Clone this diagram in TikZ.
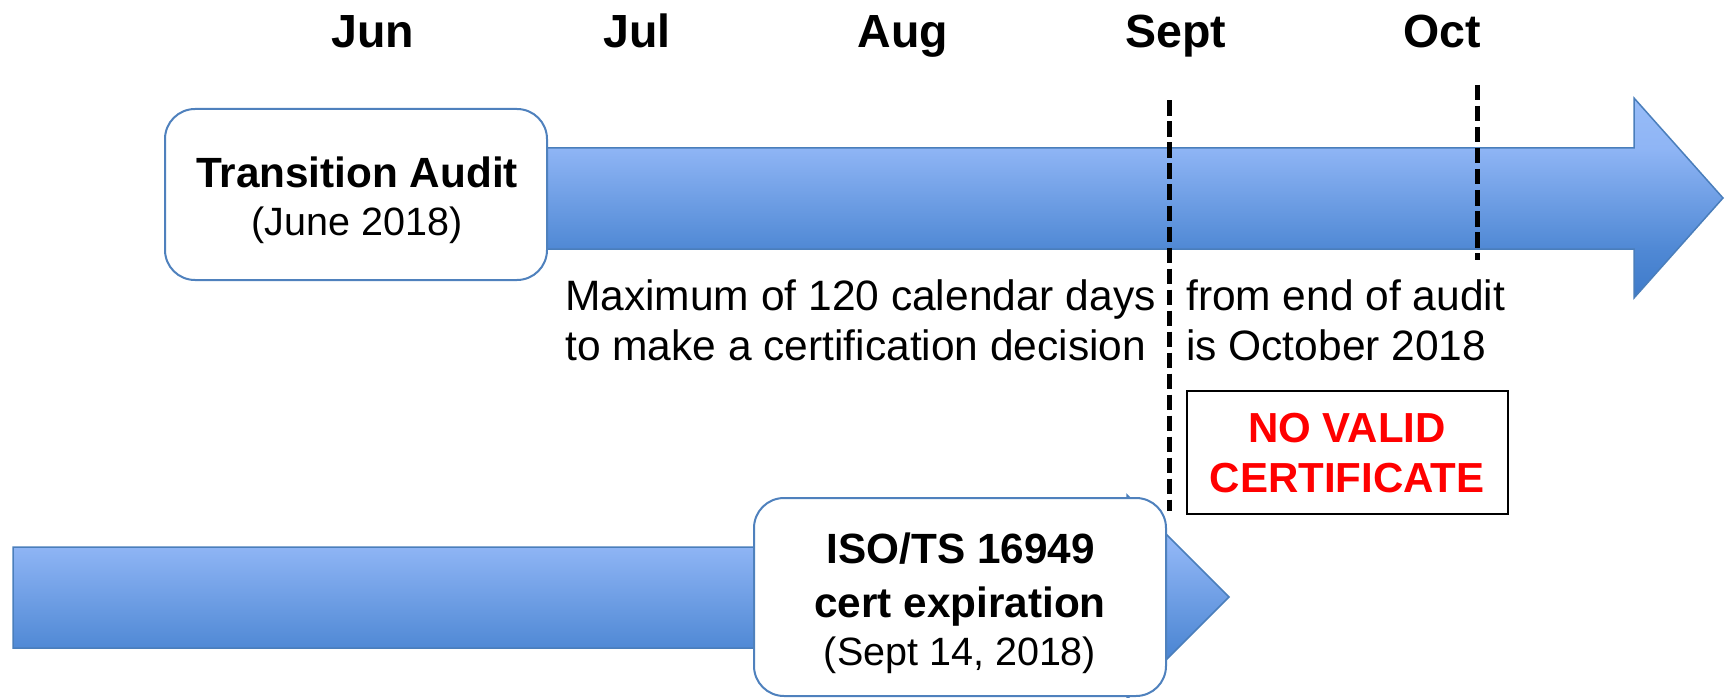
\documentclass[tikz,border=0pt]{standalone}
\usepackage{fontspec}
\setmainfont{Liberation Sans}
\definecolor{abot}{HTML}{3E7AC9}
\definecolor{amidb}{HTML}{5089D5}
\definecolor{amidt}{HTML}{8FB5F5}
\definecolor{atop}{HTML}{97BCF8}
\definecolor{arrowline}{HTML}{4A7EBB}
\definecolor{boxline}{HTML}{4F81BD}
\definecolor{alertred}{HTML}{FF0000}
\pgfdeclareverticalshading{arrowshade}{100bp}{color(0bp)=(abot); color(25bp)=(abot); color(37.5bp)=(amidb); color(62.5bp)=(amidt); color(75bp)=(atop); color(100bp)=(atop)}
\begin{document}
\begin{tikzpicture}[x=1pt,y=-1pt,
  month/.style={font=\fontsize{46.5}{50}\selectfont\bfseries, inner sep=0pt, anchor=base},
  bodytext/.style={font=\fontsize{42.5}{50}\selectfont, inner sep=0pt, anchor=base west},
  titletext/.style={font=\fontsize{42.3}{50}\selectfont\bfseries, inner sep=0pt, anchor=base},
  subtext/.style={font=\fontsize{39.5}{50}\selectfont, inner sep=0pt, anchor=base},
  alerttext/.style={font=\fontsize{42}{50}\selectfont\bfseries, text=alertred, inner sep=0pt, anchor=base},
  rbox/.style={draw=boxline, line width=2pt, fill=white, rounded corners=30pt, inner sep=0pt},
  alertbox/.style={draw=black, line width=2pt, fill=white, inner sep=0pt},
  dashline/.style={line width=5.5pt, dash pattern=on 15.5pt off 5.5pt},
  arrowbody/.style={shading=arrowshade, draw=arrowline, line width=1.5pt}
]
\useasboundingbox (0,0) rectangle (1725,698);

% month labels
\node[month] (jun) at (373,48) {Jun};
\node[month] (jul) at (637,48) {Jul};
\node[month] (aug) at (903,48) {Aug};
\node[month] (sept) at (1176,48) {Sept};
\node[month] (oct) at (1442,48) {Oct};

% upper timeline arrow
\shade[arrowbody] (500,148) -- (1634,148) -- (1634,98) -- (1723,198) -- (1634,298) -- (1634,249) -- (500,249) -- cycle;
\node[rbox, minimum width=382pt, minimum height=171pt] (audit) at (356,194.5) {};
\node[titletext] (auditT) at (357,187) {Transition Audit};
\node[subtext] (auditD) at (357,235) {(June 2018)};

% lower timeline arrow
\shade[arrowbody] (13,547) -- (1127,547) -- (1127,495) -- (1229,597) -- (1127,699) -- (1127,648) -- (13,648) -- cycle;
\node[rbox, minimum width=412pt, minimum height=198pt] (expiry) at (960,597) {};
\node[titletext] (expT1) at (961,563) {ISO/TS 16949};
\node[titletext] (expT2) at (960,617) {cert expiration};
\node[subtext] (expD) at (960,665) {(Sept 14, 2018)};

% dashed markers
\coordinate (septTop) at (1169.3,100.5);
\coordinate (septBot) at (1169.3,511);
\coordinate (octTop) at (1477.5,85);
\coordinate (octBot) at (1477.5,260);
\draw[dashline] (septTop) -- (septBot);
\draw[dashline] (octTop) -- (octBot);

% explanatory text
\node[bodytext] (max1) at (565,310) {Maximum of 120 calendar days};
\node[bodytext] (max2) at (565,360) {to make a certification decision};
\node[bodytext] (from1) at (1186,310) {from end of audit};
\node[bodytext] (from2) at (1186,360) {is October 2018};

% no valid certificate
\node[alertbox, minimum width=321pt, minimum height=123pt] (novalid) at (1347.5,452.5) {};
\node[alerttext] (nv1) at (1347,442) {NO VALID};
\node[alerttext] (nv2) at (1347,492) {CERTIFICATE};
\end{tikzpicture}
\end{document}
